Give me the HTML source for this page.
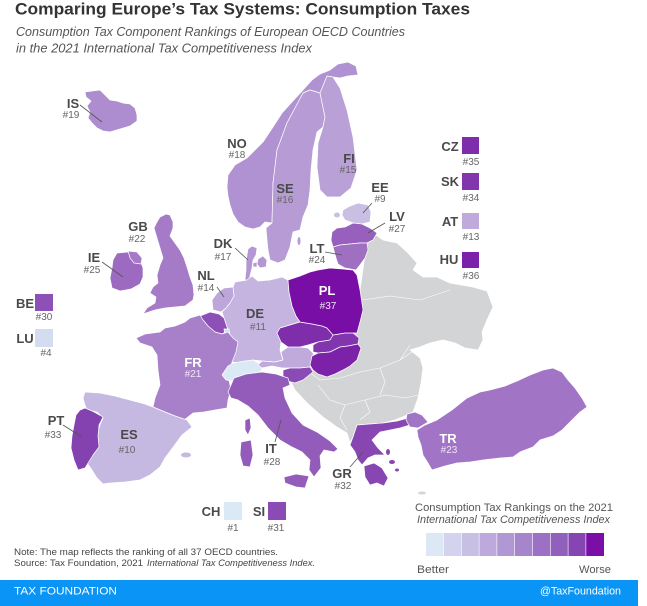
<!DOCTYPE html>
<html><head><meta charset="utf-8"><style>
html,body{margin:0;padding:0;background:#fff;}
svg{display:block;}
text{font-family:"Liberation Sans",Arial,sans-serif;}
.c{stroke:#fff;stroke-width:0.7;stroke-linejoin:round;}
.lb{font-weight:bold;font-size:13px;fill:#4a4a4a;text-anchor:middle;}
.rk{font-size:10px;fill:#666;text-anchor:middle;}
.lw{font-weight:bold;font-size:13px;fill:#fff;text-anchor:middle;}
.rw{font-size:10px;fill:#f0e6f7;text-anchor:middle;}
.ld{stroke:#555;stroke-width:0.8;fill:none;}
</style></head><body>
<svg width="647" height="606" viewBox="0 0 647 606" xmlns="http://www.w3.org/2000/svg">
<rect width="647" height="606" fill="#fff"/>
<!-- Title -->
<text x="15" y="14.5" font-size="17" font-weight="bold" fill="#333" textLength="455" lengthAdjust="spacingAndGlyphs">Comparing Europe’s Tax Systems: Consumption Taxes</text>
<text x="16" y="36" font-size="12.5" font-style="italic" fill="#555" textLength="389" lengthAdjust="spacingAndGlyphs">Consumption Tax Component Rankings of European OECD Countries</text>
<text x="16" y="52.5" font-size="12.5" font-style="italic" fill="#555" textLength="296" lengthAdjust="spacingAndGlyphs">in the 2021 International Tax Competitiveness Index</text>

<!-- Non-OECD gray -->
<polygon class="c" fill="#d3d4d6" points="372,232 383,240 397,243 407,252 417,263 413,270 423,277 437,277 450,283 473,287 487,291 493,307 487,320 482,332 483,340 478,350 465,348 455,343 443,340 430,343 420,347 410,350 420,358 423,368 421,383 418,398 413,412 405,416 395,420 383,423 370,424 357,425 353,437 350,443 347,433 337,427 323,417 307,403 295,390 290,380 288,372 310,362 330,340 355,320 360,290 365,255 367,243"/>
<polyline points="300,365 320,380 340,378 360,372 380,368 400,360 412,352" fill="none" stroke="#fff" stroke-width="0.6"/>
<polyline points="363,300 390,296 420,300 450,290" fill="none" stroke="#fff" stroke-width="0.6"/>
<polyline points="318,385 330,400 345,405 365,400 385,395 405,398 418,395" fill="none" stroke="#fff" stroke-width="0.6"/>
<polyline points="365,400 370,412 360,420" fill="none" stroke="#fff" stroke-width="0.6"/>
<polyline points="345,405 340,418 347,430" fill="none" stroke="#fff" stroke-width="0.6"/>
<polyline points="380,368 385,382 380,395" fill="none" stroke="#fff" stroke-width="0.6"/>
<polyline points="400,360 410,345" fill="none" stroke="#fff" stroke-width="0.6"/>
<ellipse cx="422" cy="493" rx="4" ry="1.5" fill="#d3d4d6"/>

<!-- Iceland -->
<polygon class="c" fill="#ad8ccf" points="85,92 92,91 100,90 105,95 110,100 117,101 123,103 130,104 135,108 137,115 137,121 130,126 120,129 110,132 103,131 97,128 92,123 88,118 90,112 87,106 91,101 86,97"/>
<!-- Norway -->
<polygon class="c" fill="#b091d1" points="227,187 228,175 235,165 247,158 255,150 263,142 273,127 282,113 292,102 303,90 312,80 320,74 330,70 338,64 348,62 356,66 358,75 348,76 340,78 333,77 327,76 320,93 310,90 303,93 287,123 277,150 273,183 272,223 265,222 260,227 253,229 245,227 238,222 233,214 230,205 228,196"/>
<!-- Sweden -->
<polygon class="c" fill="#b69bd5" points="272,223 273,183 277,150 287,123 303,93 310,90 320,93 325,117 323,127 317,132 313,150 311,170 310,190 308,205 303,217 300,230 293,232 290,247 285,260 278,263 270,260 268,250 267,240 266,228"/>
<ellipse cx="299" cy="241" rx="1.5" ry="4" fill="#b69bd5"/>
<!-- Finland -->
<polygon class="c" fill="#b9a0d7" points="320,93 327,76 333,77 340,88 347,110 353,137 357,170 351,188 340,197 327,197 320,190 317,167 318,143 323,127 325,117"/>
<!-- Estonia -->
<polygon class="c" fill="#c9bfe3" points="343,210 350,206 358,203 368,205 371,212 370,222 362,224 353,223 345,220 342,215"/>
<ellipse cx="337" cy="215" rx="3" ry="2.5" fill="#c9bfe3"/>
<!-- Latvia -->
<polygon class="c" fill="#9660bc" points="332,232 337,228 345,227 353,223 362,224 370,228 377,233 373,240 367,243 360,243 350,244 340,245 333,247 331,240"/>
<!-- Lithuania -->
<polygon class="c" fill="#9f6fc2" points="333,247 340,245 350,244 360,243 367,243 368,250 365,258 360,265 356,270 345,268 338,264 336,258"/>
<!-- GB -->
<polygon class="c" fill="#a57ac7" points="160,217 166,214 170,215 173,222 173,228 170,236 175,243 180,250 184,258 187,267 190,277 193,285 194,295 193,300 185,306 175,307 165,308 155,310 143,314 147,308 155,303 156,297 150,293 153,287 158,283 157,275 160,265 163,258 160,248 157,238 154,228 157,222"/>
<!-- Ireland -->
<polygon class="c" fill="#9c6ac0" points="117,253 128,252 133,256 140,260 143,268 143,277 140,284 131,289 120,291 112,288 110,278 112,268 113,260"/>
<polygon class="c" fill="#a57ac7" points="128,251 137,252 142,258 141,264 134,263 130,258"/>
<!-- Denmark -->
<polygon class="c" fill="#b396d3" points="245,280 246,270 246,262 247,255 248,249 252,246 257,248 256,255 253,260 252,268 250,276 249,281"/>
<polygon class="c" fill="#b396d3" points="258,259 263,256 267,260 266,267 260,268 257,264"/>
<polygon class="c" fill="#b396d3" points="253,263 257,262 257,267 253,267"/>
<!-- Germany -->
<polygon class="c" fill="#c4b4df" points="235,282 247,280 252,276 258,281 270,280 282,277 288,280 289,292 292,306 296,316 300,322 290,325 280,328 277,333 281,342 280,350 283,360 275,362 262,361 253,360 240,363 232,362 230,352 230,343 228,330 224,318 222,312 226,308 230,303 234,296 233,287"/>
<!-- Netherlands -->
<polygon class="c" fill="#bca6da" points="213,310 212,300 217,293 224,288 233,287 234,296 230,303 226,308 221,312"/>
<!-- Belgium -->
<polygon class="c" fill="#8d50b6" points="200,316 210,312 219,314 224,318 228,330 222,334 215,332 208,326 203,320"/>
<polygon class="c" fill="#d4dcf0" points="224,329 229,329 230,336 225,337"/>
<!-- France -->
<polygon class="c" fill="#a87fc9" points="200,315 203,320 208,326 215,332 222,334 228,332 233,338 238,342 236,352 232,362 230,372 229,380 231,390 228,400 227,408 215,410 204,412 193,413 184,420 175,416 165,412 153,407 155,398 160,385 158,370 157,355 152,347 140,343 136,338 145,334 160,332 165,328 175,326 185,322 190,318"/>
<!-- Spain -->
<polygon class="c" fill="#c6b9e1" points="85,392 100,393 115,396 130,400 145,404 153,407 165,412 175,416 187,420 192,427 182,435 174,446 165,458 160,467 150,475 140,480 125,482 110,483 103,484 97,478 92,470 87,463 92,455 98,447 97,435 100,425 103,418 97,412 87,410 85,405 83,398"/>
<ellipse cx="186" cy="455" rx="5" ry="2.5" fill="#c6b9e1"/>
<!-- Portugal -->
<polygon class="c" fill="#8441b0" points="85,408 92,411 103,417 99,425 98,436 99,447 93,455 88,463 85,468 78,470 74,460 71,448 72,436 74,425 76,415 80,410"/>
<!-- Switzerland -->
<polygon class="c" fill="#dbe8f5" points="222,375 228,366 233,363 245,361 253,360 260,364 262,370 255,376 249,380 240,378 233,381 226,380"/>
<!-- Austria -->
<polygon class="c" fill="#bfaadb" points="262,361 275,362 283,360 281,352 288,347 300,347 308,348 313,353 314,360 310,367 300,368 290,368 282,368 272,366 262,368 258,365"/>
<!-- Czech -->
<polygon class="c" fill="#7e2eab" points="277,333 280,328 290,325 300,322 312,324 322,326 327,328 333,335 330,340 318,342 308,345 300,347 288,347 281,342"/>
<!-- Slovakia -->
<polygon class="c" fill="#8136ad" points="313,345 318,342 330,340 333,335 345,333 353,333 359,338 358,344 348,346 340,347 330,352 318,353 313,352"/>
<!-- Hungary -->
<polygon class="c" fill="#7b22a8" points="312,356 318,353 330,352 340,347 348,346 358,344 361,348 357,360 350,366 343,370 335,374 327,377 318,374 313,370 310,365"/>
<!-- Slovenia -->
<polygon class="c" fill="#8a4bb4" points="283,370 290,368 300,368 310,367 313,372 303,380 295,383 287,381 283,376"/>
<!-- Poland -->
<polygon class="c" fill="#780ea6" points="288,280 300,276 310,272 318,270 330,268 343,269 353,270 357,275 360,290 363,310 360,322 357,333 353,333 345,333 333,335 327,328 322,326 312,324 300,322 296,316 292,306 289,292"/>
<!-- Italy -->
<polygon class="c" fill="#935bba" points="228,392 234,378 246,374 262,372 276,374 288,378 290,385 283,388 285,398 292,413 303,425 317,432 330,441 338,449 334,452 324,450 320,456 321,468 314,477 309,470 310,460 302,452 292,447 280,440 268,428 258,415 248,406 238,400 231,398"/>
<polygon class="c" fill="#935bba" points="284,477 296,474 309,476 305,488 296,487 285,483"/>
<polygon class="c" fill="#935bba" points="241,442 251,440 253,455 250,467 243,466 240,455"/>
<polygon class="c" fill="#935bba" points="245,420 250,418 251,428 248,435 245,430"/>
<!-- Greece -->
<polygon class="c" fill="#8746b2" points="353,437 357,425 370,424 383,423 397,421 408,418 410,425 400,428 390,430 380,432 372,440 378,448 385,455 375,455 368,458 362,465 358,460 355,452 350,445"/>
<polygon class="c" fill="#8746b2" points="364,466 374,463 382,468 388,478 384,486 377,483 370,485 365,477"/>
<ellipse cx="392" cy="462" rx="3" ry="2" fill="#8746b2"/>
<ellipse cx="397" cy="470" rx="2" ry="1.5" fill="#8746b2"/>
<ellipse cx="388" cy="452" rx="2" ry="3" fill="#8746b2"/>
<!-- Turkey -->
<polygon class="c" fill="#a274c5" points="407,414 415,412 422,415 428,422 418,428 410,427 406,420"/>
<polygon class="c" fill="#a274c5" points="417,430 425,425 437,420 452,410 467,398 480,392 490,390 505,386 517,381 530,375 543,370 553,368 562,372 568,380 575,388 582,398 587,407 580,412 572,420 562,430 553,436 540,440 533,447 520,452 513,457 500,458 483,460 470,462 457,463 445,466 432,470 428,463 423,455 421,445 418,437"/>

<!-- Leader lines -->
<line class="ld" x1="80" y1="105" x2="102" y2="122"/>
<line class="ld" x1="372" y1="203" x2="363" y2="213"/>
<line class="ld" x1="385" y1="223" x2="368" y2="233"/>
<line class="ld" x1="325" y1="252" x2="342" y2="255"/>
<line class="ld" x1="235" y1="248" x2="248" y2="260"/>
<line class="ld" x1="102" y1="262" x2="123" y2="277"/>
<line class="ld" x1="217" y1="287" x2="224" y2="297"/>
<line class="ld" x1="63" y1="425" x2="82" y2="437"/>
<line class="ld" x1="275" y1="442" x2="281" y2="420"/>
<line class="ld" x1="350" y1="467" x2="363" y2="452"/>

<!-- Labels -->
<text class="lb" x="73" y="108">IS</text><text class="rk" x="71" y="118">#19</text>
<text class="lb" x="237" y="148">NO</text><text class="rk" x="237" y="158">#18</text>
<text class="lb" x="285" y="193">SE</text><text class="rk" x="285" y="203">#16</text>
<text class="lb" x="349" y="163">FI</text><text class="rk" x="348" y="173">#15</text>
<text class="lb" x="380" y="192">EE</text><text class="rk" x="380" y="202">#9</text>
<text class="lb" x="397" y="221">LV</text><text class="rk" x="397" y="232">#27</text>
<text class="lb" x="317" y="253">LT</text><text class="rk" x="317" y="263">#24</text>
<text class="lb" x="223" y="248">DK</text><text class="rk" x="223" y="260">#17</text>
<text class="lb" x="138" y="231">GB</text><text class="rk" x="137" y="242">#22</text>
<text class="lb" x="94" y="262">IE</text><text class="rk" x="92" y="273">#25</text>
<text class="lb" x="206" y="280">NL</text><text class="rk" x="206" y="291">#14</text>
<text class="lb" x="255" y="318">DE</text><text class="rk" x="258" y="330">#11</text>
<text class="lw" x="193" y="367">FR</text><text class="rw" x="193" y="377">#21</text>
<text class="lb" x="129" y="439">ES</text><text class="rk" x="127" y="453">#10</text>
<text class="lb" x="56" y="425">PT</text><text class="rk" x="53" y="438">#33</text>
<text class="lw" x="327" y="295">PL</text><text class="rw" x="328" y="309">#37</text>
<text class="lb" x="271" y="453">IT</text><text class="rk" x="272" y="465">#28</text>
<text class="lb" x="342" y="478">GR</text><text class="rk" x="343" y="489">#32</text>
<text class="lw" x="448" y="443">TR</text><text class="rw" x="449" y="453">#23</text>

<!-- Box callouts left -->
<text class="lb" x="25" y="308">BE</text>
<rect x="35" y="294" width="18" height="17" fill="#8d50b6"/>
<text class="rk" x="44" y="320">#30</text>
<text class="lb" x="25" y="343">LU</text>
<rect x="35" y="329" width="18" height="18" fill="#d4dcf0"/>
<text class="rk" x="46" y="356">#4</text>

<!-- Box callouts right -->
<text class="lb" x="450" y="151">CZ</text>
<rect x="462" y="137" width="17" height="17" fill="#7e2eab"/>
<text class="rk" x="471" y="165">#35</text>
<text class="lb" x="450" y="186">SK</text>
<rect x="462" y="173" width="17" height="17" fill="#8136ad"/>
<text class="rk" x="471" y="201">#34</text>
<text class="lb" x="450" y="226">AT</text>
<rect x="462" y="213" width="17" height="16" fill="#bfaadb"/>
<text class="rk" x="471" y="240">#13</text>
<text class="lb" x="449" y="264">HU</text>
<rect x="462" y="252" width="17" height="16" fill="#7b22a8"/>
<text class="rk" x="471" y="279">#36</text>

<!-- Bottom callouts -->
<text class="lb" x="211" y="516">CH</text>
<rect x="224" y="502" width="18" height="18" fill="#dbe8f5"/>
<text class="rk" x="233" y="531">#1</text>
<text class="lb" x="259" y="516">SI</text>
<rect x="268" y="502" width="18" height="18" fill="#8a4bb4"/>
<text class="rk" x="276" y="531">#31</text>

<!-- Notes -->
<text x="14" y="555" font-size="9.5" fill="#444" textLength="264" lengthAdjust="spacingAndGlyphs">Note: The map reflects the ranking of all 37 OECD countries.</text>
<text x="14" y="566" font-size="9.5" fill="#444" textLength="129" lengthAdjust="spacingAndGlyphs">Source: Tax Foundation, 2021</text>
<text x="147" y="566" font-size="9.5" font-style="italic" fill="#444" textLength="168" lengthAdjust="spacingAndGlyphs">International Tax Competitiveness Index.</text>

<!-- Legend -->
<text x="415" y="511" font-size="11" fill="#555" textLength="198" lengthAdjust="spacingAndGlyphs">Consumption Tax Rankings on the 2021</text>
<text x="417" y="523" font-size="11" font-style="italic" fill="#555" textLength="193" lengthAdjust="spacingAndGlyphs">International Tax Competitiveness Index</text>
<g>
<rect x="426" y="533" width="17.2" height="23" fill="#dce9f5"/>
<rect x="443.8" y="533" width="17.2" height="23" fill="#d3d3ee"/>
<rect x="461.6" y="533" width="17.2" height="23" fill="#c8bfe5"/>
<rect x="479.4" y="533" width="17.2" height="23" fill="#bda9dc"/>
<rect x="497.2" y="533" width="17.2" height="23" fill="#b197d3"/>
<rect x="515" y="533" width="17.2" height="23" fill="#a785cc"/>
<rect x="532.8" y="533" width="17.2" height="23" fill="#9c70c4"/>
<rect x="550.6" y="533" width="17.2" height="23" fill="#9060bc"/>
<rect x="568.4" y="533" width="17.2" height="23" fill="#8545b3"/>
<rect x="586.2" y="533" width="17.8" height="23" fill="#7a0ea6"/>
</g>
<text x="417" y="573" font-size="11" fill="#555" textLength="32" lengthAdjust="spacingAndGlyphs">Better</text>
<text x="579" y="573" font-size="11" fill="#555" textLength="32" lengthAdjust="spacingAndGlyphs">Worse</text>

<!-- Footer -->
<rect x="0" y="580" width="638" height="26" fill="#0a94f5"/>
<text x="14" y="594.5" font-size="11" fill="#fff" textLength="103" lengthAdjust="spacingAndGlyphs">TAX FOUNDATION</text>
<text x="540" y="594.5" font-size="11" fill="#fff" textLength="81" lengthAdjust="spacingAndGlyphs">@TaxFoundation</text>
</svg>
</body></html>
